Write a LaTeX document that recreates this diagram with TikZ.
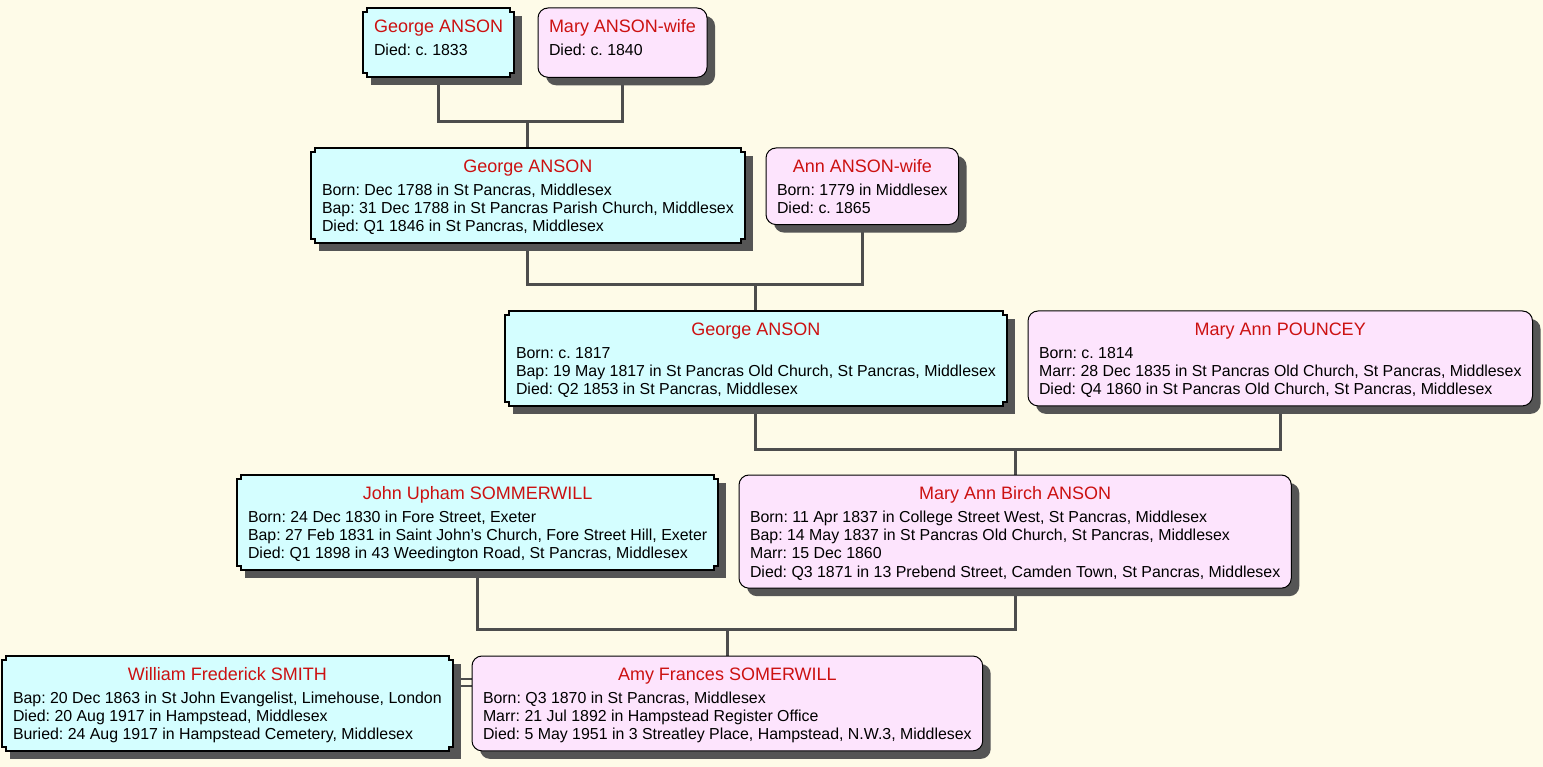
\documentclass[tikz,border=0pt]{standalone}
\usepackage{fontspec}
\setmainfont{Liberation Sans}
\usetikzlibrary{calc}
\definecolor{paper}{RGB}{254,251,232}
\definecolor{malefill}{RGB}{212,254,255}
\definecolor{femalefill}{RGB}{253,228,253}
\definecolor{namered}{RGB}{204,17,17}
\definecolor{shadowgray}{RGB}{85,85,85}
\definecolor{linegray}{RGB}{77,77,77}
\pgfdeclarelayer{back}
\pgfdeclarelayer{boxes}
\pgfsetlayers{back,boxes,main}
\tikzset{
  person/.style={anchor=north west, inner xsep=11pt, inner ysep=5.5pt, outer sep=0pt,
    font=\fontsize{15.9}{18.3}\selectfont\frenchspacing},
  boxshadow/.style={fill=shadowgray},
  maleline/.style={draw=black, line width=2pt, fill=malefill},
  femaleline/.style={draw=black, line width=1pt, fill=femalefill, rounded corners=10pt},
  link/.style={draw=linegray, line width=3pt}
}
\newcommand{\who}[2]{\begin{tabular}{@{}l@{}}\multicolumn{1}{@{}c@{}}{\rule{0pt}{19pt}\fontsize{18}{22}\selectfont\color{namered}#1}\\[4.5pt] #2\end{tabular}}
\newcommand{\malebox}[5]{ \node[person] (#1) at (#2,#3) {\who{#4}{#5}};
  \begin{pgfonlayer}{boxes}
    \fill[boxshadow] ([shift={(8,8)}]#1.north west) rectangle ([shift={(8,8)}]#1.south east);
    \draw[maleline] let \p1=(#1.north west), \p2=(#1.south east) in
      (\x1+4pt,\y1) -- (\x2-4pt,\y1) -- (\x2-4pt,\y1-4pt) -- (\x2,\y1-4pt) -- (\x2,\y2+4pt) -- (\x2-4pt,\y2+4pt)
      -- (\x2-4pt,\y2) -- (\x1+4pt,\y2) -- (\x1+4pt,\y2+4pt) -- (\x1,\y2+4pt) -- (\x1,\y1-4pt) -- (\x1+4pt,\y1-4pt) -- cycle;
  \end{pgfonlayer}}
\newcommand{\femalebox}[5]{ \node[person] (#1) at (#2,#3) {\who{#4}{#5}};
  \begin{pgfonlayer}{boxes}
    \fill[boxshadow, rounded corners=10pt] ([shift={(8,8)}]#1.north west) rectangle ([shift={(8,8)}]#1.south east);
    \draw[femaleline] (#1.north west) rectangle (#1.south east);
  \end{pgfonlayer}}
\begin{document}
\begin{tikzpicture}[x=1pt, y=-1pt]
  \useasboundingbox (0,0) rectangle (1543,767);
  \begin{pgfonlayer}{back}
    \fill[paper] (0,0) rectangle (1543,767);
  \end{pgfonlayer}

  % generation 1
  \malebox{ga1}{363}{8}{George ANSON}{Died: c. 1833\\[11pt]}
  \femalebox{ma1}{538}{8}{Mary ANSON-wife}{Died: c. 1840\\[11pt]}
  % generation 2
  \malebox{ga2}{311}{148}{George ANSON}{Born: Dec 1788 in St Pancras, Middlesex\\
    Bap: 31 Dec 1788 in St Pancras Parish Church, Middlesex\\
    Died: Q1 1846 in St Pancras, Middlesex}
  \femalebox{aa}{766}{148}{Ann ANSON-wife}{Born: 1779 in Middlesex\\
    Died: c. 1865}
  % generation 3
  \malebox{ga3}{505}{311}{George ANSON}{Born: c. 1817\\
    Bap: 19 May 1817 in St Pancras Old Church, St Pancras, Middlesex\\
    Died: Q2 1853 in St Pancras, Middlesex}
  \femalebox{map}{1028}{311}{Mary Ann POUNCEY}{Born: c. 1814\\
    Marr: 28 Dec 1835 in St Pancras Old Church, St Pancras, Middlesex\\
    Died: Q4 1860 in St Pancras Old Church, St Pancras, Middlesex}
  % generation 4
  \malebox{jus}{237}{475}{John Upham SOMMERWILL}{Born: 24 Dec 1830 in Fore Street, Exeter\\
    Bap: 27 Feb 1831 in Saint John's Church, Fore Street Hill, Exeter\\
    Died: Q1 1898 in 43 Weedington Road, St Pancras, Middlesex}
  \femalebox{mab}{739}{475}{Mary Ann Birch ANSON}{Born: 11 Apr 1837 in College Street West, St Pancras, Middlesex\\
    Bap: 14 May 1837 in St Pancras Old Church, St Pancras, Middlesex\\
    Marr: 15 Dec 1860\\
    Died: Q3 1871 in 13 Prebend Street, Camden Town, St Pancras, Middlesex}
  % generation 5
  \malebox{wfs}{2}{656}{William Frederick SMITH}{Bap: 20 Dec 1863 in St John Evangelist, Limehouse, London\\
    Died: 20 Aug 1917 in Hampstead, Middlesex\\
    Buried: 24 Aug 1917 in Hampstead Cemetery, Middlesex}
  \femalebox{afs}{472}{656}{Amy Frances SOMERWILL}{Born: Q3 1870 in St Pancras, Middlesex\\
    Marr: 21 Jul 1892 in Hampstead Register Office\\
    Died: 5 May 1951 in 3 Streatley Place, Hampstead, N.W.3, Middlesex}

  % family lines
  \begin{pgfonlayer}{back}
    \draw[link] (ga1.south) |- ($(ga2.north)+(0,-26)$) -| (ma1.south);
    \draw[link] (ga2.north) -- ++(0,-26);
    \draw[link] (ga2.south) |- ($(ga3.north)+(0,-26)$) -| (aa.south);
    \draw[link] (ga3.north) -- ++(0,-26);
    \draw[link] (ga3.south) |- ($(mab.north)+(0,-26)$) -| (map.south);
    \draw[link] (mab.north) -- ++(0,-26);
    \draw[link] (jus.south) |- ($(afs.north)+(0,-27)$) -| (mab.south);
    \draw[link] (afs.north) -- ++(0,-27);
    \draw[link, line width=2.5pt] ($(wfs.north east)+(0,23)$) -- ($(afs.north west)+(0,23)$);
    \draw[link, line width=2.5pt] ($(wfs.north east)+(0,30)$) -- ($(afs.north west)+(0,30)$);
  \end{pgfonlayer}
\end{tikzpicture}
\end{document}
